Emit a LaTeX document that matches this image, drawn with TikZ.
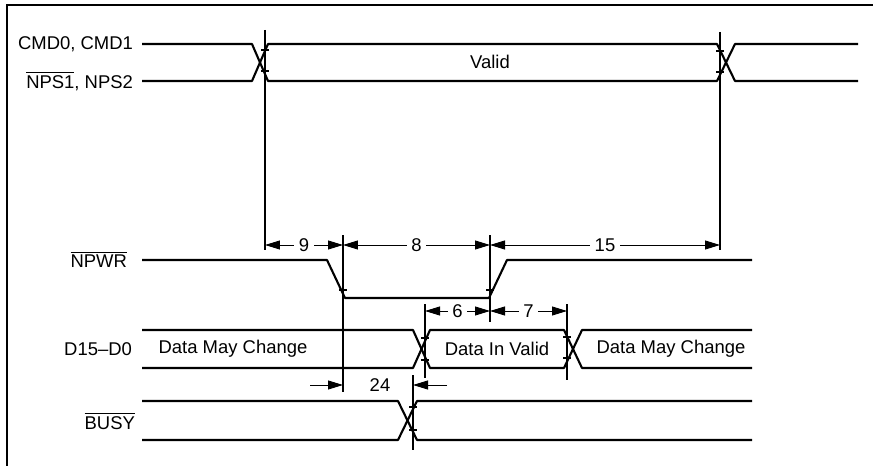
\documentclass[tikz,border=0pt]{standalone}
\usepackage{fontspec}
\setmainfont{Liberation Sans}
\usetikzlibrary{arrows.meta,positioning}
\newcommand{\ovl}[1]{$\overline{\mbox{#1}}$}

\begin{document}
\begin{tikzpicture}[x=0.02cm, y=-0.02cm,
  sig/.style={line width=1.2pt, line join=round},
  refl/.style={line width=0.7pt},
  tip/.style={-{Triangle[length=3mm,width=1.8mm]}, line width=0.5pt},
  dimln/.style={{Triangle[length=3mm,width=1.8mm]}-{Triangle[length=3mm,width=1.8mm]}, line width=0.5pt},
  tick/.style={line width=0.6pt},
  lbl/.style={font=\fontsize{10.5}{12}\selectfont, inner sep=1pt},
  dimlbl/.style={lbl, fill=white, inner sep=2.5pt}]
 \useasboundingbox (0,0) rectangle (873,466);
 \draw[line width=0.8pt] (7,466) -- (7,5) -- (873,5);
 % signal names
 \node[lbl, anchor=east] (cmd) at (135,44) {CMD0, CMD1};
 \node[lbl, anchor=east] (nps) at (135,81) {\ovl{NPS1}, NPS2};
 \node[lbl, anchor=east] (npwr) at (129,259) {\ovl{NPWR}};
 \node[lbl, anchor=east] (data) at (134,349) {D15--D0};
 \node[lbl, anchor=east] (busy) at (137,421) {\ovl{BUSY}};
 % waveforms
 \draw[sig] (142,44) -- (252,44) -- (268,81) -- (717,81) -- (735,44) -- (858,44);
 \draw[sig] (142,81) -- (252,81) -- (268,44) -- (717,44) -- (735,81) -- (858,81);
 \draw[sig] (142,260) -- (327,260) -- (345,298) -- (489,298) -- (507,260) -- (752,260);
 \draw[sig] (142,330) -- (413,330) -- (430,368) -- (564,368) -- (582,330) -- (752,330);
 \draw[sig] (142,368) -- (413,368) -- (430,330) -- (564,330) -- (582,368) -- (752,368);
 \draw[sig] (142,401) -- (398,401) -- (417,440) -- (752,440);
 \draw[sig] (142,440) -- (398,440) -- (417,401) -- (752,401);
 \node[lbl] (valid) at (490,62) {Valid};
 \node[lbl] (chg1) at (233,349) {Data May Change};
 \node[lbl] (dinv) at (497,349) {Data In Valid};
 \node[lbl] (chg2) at (671,349) {Data May Change};
 % reference lines
 \draw[refl] (265,30) -- (265,250);
 \draw[refl] (720,32) -- (720,250);
 \draw[refl] (343,235) -- (343,392);
 \draw[refl] (490,235) -- (490,322);
 \draw[refl] (425,304) -- (425,378);
 \draw[refl] (567,304) -- (567,380);
 \draw[refl] (413,375) -- (413,450);
 \foreach \x/\y in {265/50, 265/71, 720/51, 720/72, 343/290, 490/290,
                    425/338, 425/360, 567/337, 567/358, 413/407, 413/430}
   \draw[tick] (\x-4,\y) -- (\x+4,\y);
 % timing values
 \draw[dimln] (265,245) -- node[dimlbl] (t9) {9} (343,245);
 \draw[dimln] (343,245) -- node[dimlbl] (t8) {8} (490,245);
 \draw[dimln] (490,245) -- node[dimlbl] (t15) {15} (720,245);
 \draw[dimln] (425,311) -- node[dimlbl] (t6) {6} (490,311);
 \draw[dimln] (490,311) -- node[dimlbl] (t7) {7} (567,311);
 \node[lbl] (t24) at (380,385) {24};
 \draw[tip] (310,385) -- (343,385);
 \draw[tip] (447,385) -- (413,385);
\end{tikzpicture}
\end{document}
